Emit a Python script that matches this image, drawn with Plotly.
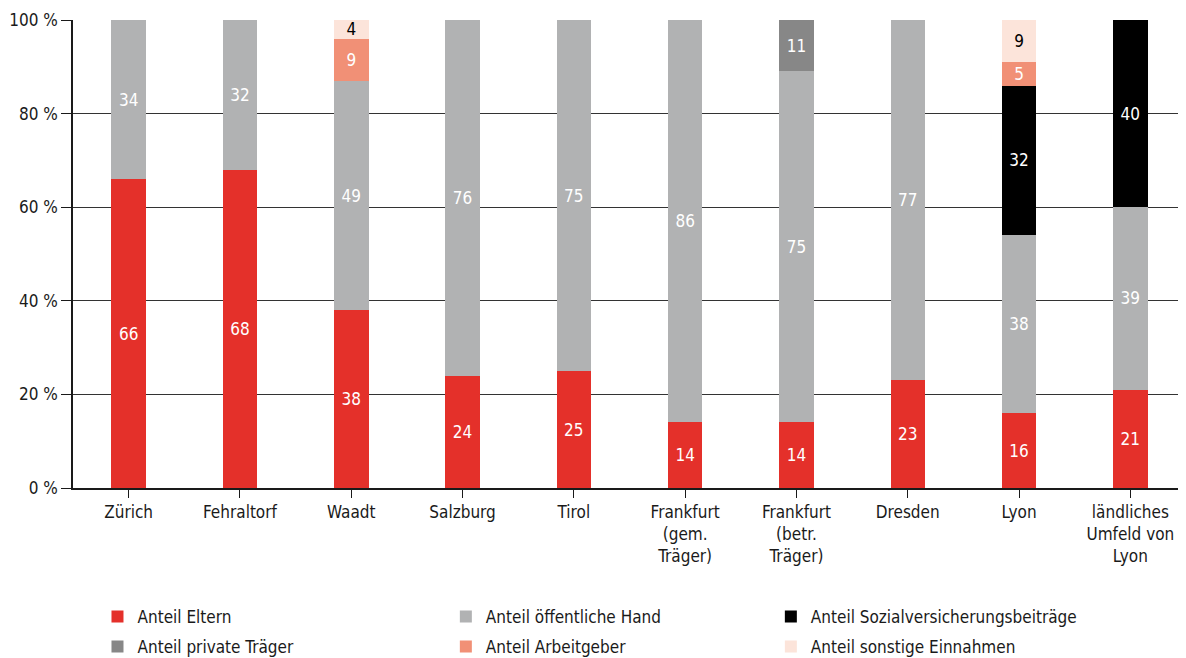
import plotly.graph_objects as go

categories = ["Zürich", "Fehraltorf", "Waadt", "Salzburg", "Tirol",
              "Frankfurt<br>(gem.<br>Träger)", "Frankfurt<br>(betr.<br>Träger)",
              "Dresden", "Lyon", "ländliches<br>Umfeld von<br>Lyon"]

eltern = [66, 68, 38, 24, 25, 14, 14, 23, 16, 21]
oeffentlich = [34, 32, 49, 76, 75, 86, 75, 77, 38, 39]
sozial = [None, None, None, None, None, None, None, None, 32, 40]
private = [None, None, None, None, None, None, 11, None, None, None]
arbeitgeber = [None, None, 9, None, None, None, None, None, 5, None]
sonstige = [None, None, 4, None, None, None, None, None, 9, None]

y_tickvals = [0, 20, 40, 60, 80, 100]
y_ticktext = ["0 %", "20 %", "40 %", "60 %", "80 %", "100 %"]

FONT = "DejaVu Sans Condensed, Open Sans, sans-serif"

# name, values, colour, label colour, legend id, legend x, legend y
series = [
    ("Anteil Eltern", eltern, "#E4302A", "white", "legend", 0.022, -0.2756),
    ("Anteil öffentliche Hand", oeffentlich, "#B1B2B3", "white", "legend2", 0.335, -0.2756),
    ("Anteil Sozialversicherungsbeiträge", sozial, "#000000", "white", "legend3", 0.627, -0.2756),
    ("Anteil private Träger", private, "#878787", "white", "legend4", 0.022, -0.3397),
    ("Anteil Arbeitgeber", arbeitgeber, "#F19076", "white", "legend5", 0.335, -0.3397),
    ("Anteil sonstige Einnahmen", sonstige, "#FCE4DA", "black", "legend6", 0.627, -0.3397),
]

fig = go.Figure()
legends = {}
for name, vals, color, tcolor, lg, lx, ly in series:
    fig.add_trace(go.Bar(
        x=list(range(len(categories))), y=vals, name=name,
        marker=dict(color=color, line=dict(width=0)),
        text=[("" if v is None else str(v)) for v in vals],
        textposition="inside", insidetextanchor="middle", textangle=0,
        textfont=dict(color=tcolor, size=17, family=FONT),
        legend=lg, showlegend=True,
    ))
    legends[lg] = dict(
        x=lx, y=ly, orientation="v", yanchor="middle", xanchor="left",
        font=dict(size=17, family=FONT, color="#1a1a1a"),
        bgcolor="rgba(0,0,0,0)", itemwidth=30,
    )

fig.update_layout(
    width=1178, height=650, showlegend=True,
    barmode="stack", bargap=0.69,
    plot_bgcolor="white", paper_bgcolor="white",
    margin=dict(l=65, r=0, t=12, b=170, autoexpand=False),
    font=dict(family=FONT, size=16, color="#1a1a1a"),
    uniformtext=dict(minsize=17, mode="show"),
    xaxis=dict(
        tickmode="array", tickvals=list(range(len(categories))), ticktext=categories,
        range=[-0.5, 9.5], showgrid=False, showline=True, linecolor="#1a1a1a", linewidth=1.5,
        ticks="outside", ticklen=8, tickcolor="#1a1a1a", tickson="boundaries",
        tickfont=dict(size=17, family=FONT, color="#1a1a1a"),
    ),
    yaxis=dict(
        range=[0, 100], tickmode="array", tickvals=y_tickvals, ticktext=y_ticktext,
        showgrid=True, gridcolor="#333333", gridwidth=1,
        showline=True, linecolor="#1a1a1a", linewidth=1.5,
        ticks="outside", ticklen=10, tickcolor="#1a1a1a",
        tickfont=dict(size=17, family=FONT, color="#1a1a1a"), zeroline=False,
    ),
    **legends,
)

fig.write_html("out.html")
